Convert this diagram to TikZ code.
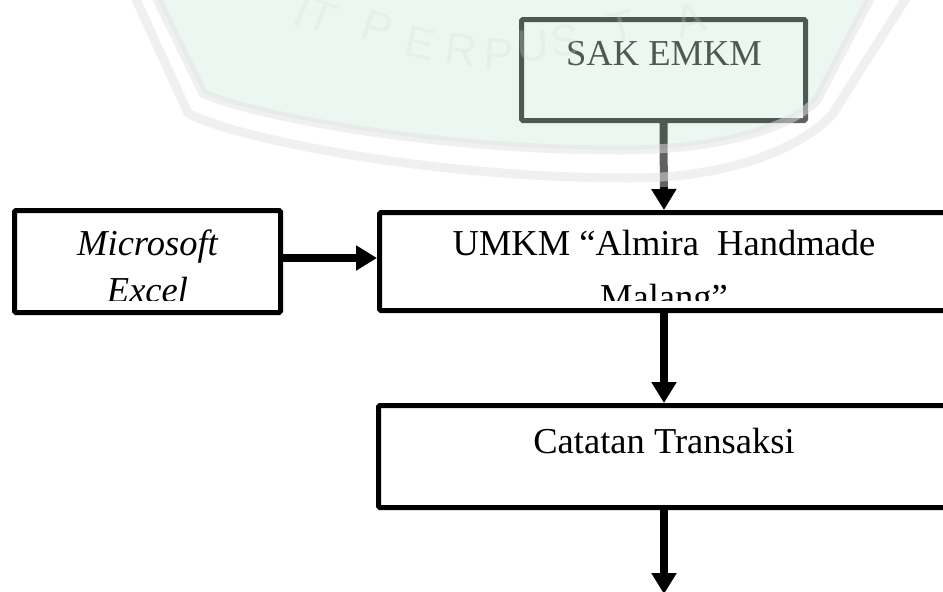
\documentclass[tikz,border=0pt]{standalone}
\usepackage{fontspec}
\setmainfont{Liberation Serif}
\newfontfamily\wmfont{Liberation Sans}
\usetikzlibrary{arrows.meta}
\definecolor{wmgreen}{HTML}{D1EBDE}
\definecolor{wmband}{HTML}{E3E3E3}
\definecolor{wmtext}{HTML}{D3DBD6}
\newcommand\boxfont{\fontsize{36.5}{44}\selectfont}
\begin{document}
\begin{tikzpicture}[x=1pt,y=-1pt,
  box/.style={draw=black, line width=5pt, rounded corners=1.5pt, fill=white, inner sep=0pt},
  txt/.style={anchor=base, inner sep=0pt, font=\boxfont},
  flow/.style={line width=8pt, -{Triangle[length=21pt,width=24pt]}},
  wmletter/.style={font=\wmfont\fontsize{44}{44}\selectfont, text=wmtext, opacity=0.25, inner sep=0pt}
]
\useasboundingbox (0,0) rectangle (943,592);
\clip (0,0) rectangle (943,592);
\fill[white] (0,0) rectangle (943,592);

% boxes
\node[box, minimum width=284pt, minimum height=101pt] (sak)   at (663.5,70) {};
\node[box, minimum width=266pt, minimum height=102pt] (excel) at (147.5,261.5) {};
\node[box, minimum width=569pt, minimum height=98pt]  (umkm)  at (664,261.5) {};
\node[box, minimum width=571pt, minimum height=102pt] (cat)   at (664,456.5) {};

% texts
\node[txt] (saktxt) at (664,65) {SAK EMKM};
\begin{scope}
  \clip (17,213) rectangle (278,300);
  \node[txt, font=\boxfont\itshape] (excel1) at (147.5,255) {Microsoft};
  \node[txt, font=\boxfont\itshape] (excel2) at (147.5,302) {Excel};
\end{scope}
\begin{scope}
  \clip (382,215) rectangle (943,300);
  \node[txt] (umkm1) at (664,255) {UMKM “Almira\ \ Handmade};
  \node[txt] (umkm2) at (664,309) {Malang”};
\end{scope}
\node[txt] (cattxt) at (664,453) {Catatan Transaksi};

% connectors
\coordinate (end) at (664,594);
\draw[flow] (sak.south) -- (umkm.north);
\draw[flow] ([yshift=3.5pt]excel.east) -- ([yshift=3.5pt]umkm.west);
\draw[flow] (umkm.south) -- (cat.north);
\draw[flow] (cat.south) -- (end);

% watermark overlay
\fill[white, fill opacity=0.38, even odd rule]
  (118,-5) -- (174,124) .. controls (215,150) and (420,188) .. (630,188)
  .. controls (750,188) and (825,155) .. (850,125) -- (928,-5) -- cycle
  (155,-5) -- (203,93) .. controls (240,112) and (420,150) .. (620,150)
  .. controls (720,150) and (790,128) .. (817,100) -- (872,-5) -- cycle;
\fill[wmgreen, fill opacity=0.38]
  (155,-5) -- (203,93) .. controls (240,112) and (420,150) .. (620,150)
  .. controls (720,150) and (790,128) .. (817,100) -- (872,-5) -- cycle;
\draw[wmband, line width=9pt, draw opacity=0.5]
  (155,-5) -- (203,93) .. controls (240,112) and (420,150) .. (620,150)
  .. controls (720,150) and (790,128) .. (817,100) -- (872,-5);
\draw[wmband, line width=9pt, draw opacity=0.5]
  (134,-5) -- (188,113) .. controls (225,135) and (420,178) .. (630,178)
  .. controls (740,178) and (805,143) .. (832,115) -- (908,-5);
\foreach \ch/\x/\y/\r [count=\i] in {I/302/12/-24, T/322/16/-22, P/377/28/-18, E/420/43/-13,
  R/461/50/-8, P/499/54/-3, U/533/46/2, S/565/41/7, T/621/27/12, A/690/20/17}
  \node[wmletter, rotate=\r] (wm\i) at (\x,\y) {\ch};
\end{tikzpicture}
\end{document}
